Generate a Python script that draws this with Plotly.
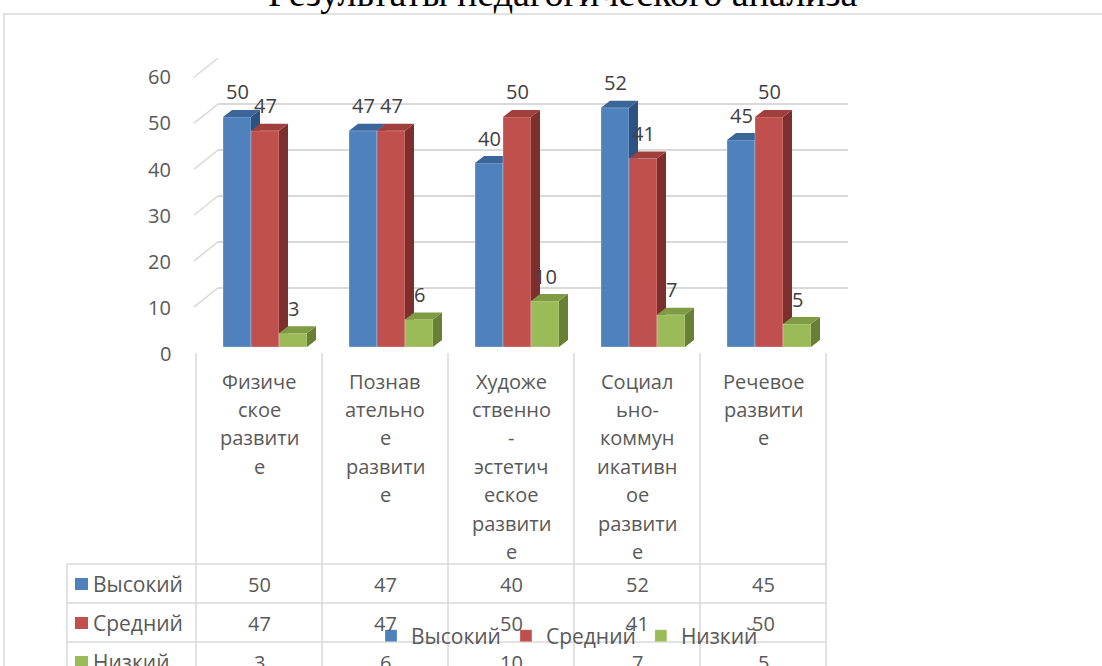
import plotly.graph_objects as go

# ---------------- data ----------------
categories = ["Физическое развитие", "Познавательное развитие",
              "Художественно-эстетическое развитие",
              "Социально-коммуникативное развитие", "Речевое развитие"]
cat_lines = [
    ["Физиче", "ское", "развити", "е"],
    ["Познав", "ательно", "е", "развити", "е"],
    ["Художе", "ственно", "-", "эстетич", "еское", "развити", "е"],
    ["Социал", "ьно-", "коммун", "икативн", "ое", "развити", "е"],
    ["Речевое", "развити", "е"],
]
series_names = ["Высокий", "Средний", "Низкий"]
high = [50, 47, 40, 52, 45]
mid = [47, 47, 50, 41, 50]
low = [3, 6, 10, 7, 5]
y_ticks = [0, 10, 20, 30, 40, 50, 60]
title_text = "Результаты педагогического анализа"

# ---------------- style ----------------
W, H = 1102, 666
FONT = "Open Sans"
front_colors = ["#4F81BD", "#C0504D", "#9BBB59"]
top_colors = ["#3B6699", "#A03F3C", "#7F9C45"]
side_colors = ["#2D5183", "#7C2F2D", "#687F36"]
grid_col = "#D9D9D9"
txt_col = "#595959"


def px(x):
    return x / W


def py(y):
    return 1 - y / H


series = [high, mid, low]
idx = list(range(len(categories)))
n_ser = len(series)
bw = (2 / 3) / n_ser              # bar width in category units
cat_px = 126.0                     # px per category (630 / 5)
val_px = 276.0 / 60.0              # px per value unit
dx = 9 / cat_px                    # bar depth (x) in data units
dy = 7 / val_px                    # bar depth (y) in data units

fig = go.Figure()

axis_names = ["2", "3", "4"]
for i, (vals, name) in enumerate(zip(series, series_names)):
    xa, ya = "x" + axis_names[i], "y" + axis_names[i]
    off = -1 / 3 + i * bw
    fig.add_trace(go.Bar(
        x=idx, y=vals, width=bw, offset=off, name=name,
        marker=dict(color=front_colors[i], line=dict(width=0.8, color="rgba(255,255,255,0.35)")),
        xaxis=xa, yaxis=ya, hoverinfo="y",
    ))
    # 3D side & top faces computed from the values
    sx, sy, tx, ty = [], [], [], []
    for c, v in zip(idx, vals):
        xl = c + off
        xr = xl + bw
        sx += [xr, xr + dx, xr + dx, xr, xr, None]
        sy += [0, dy, v + dy, v, 0, None]
        tx += [xl, xr, xr + dx, xl + dx, xl, None]
        ty += [v, v, v + dy, v + dy, v, None]
    fig.add_trace(go.Scatter(x=sx, y=sy, fill="toself", mode="none",
                             fillcolor=side_colors[i], showlegend=False,
                             hoverinfo="skip", xaxis=xa, yaxis=ya))
    fig.add_trace(go.Scatter(x=tx, y=ty, fill="toself", mode="none",
                             fillcolor=top_colors[i], showlegend=False,
                             hoverinfo="skip", xaxis=xa, yaxis=ya))

annotations = []
shapes = []

# data labels
for i, vals in enumerate(series):
    for c, v in zip(idx, vals):
        annotations.append(dict(
            x=c - 1 / 3 + (i + 0.5) * bw, y=v, xref="x2", yref="y2",
            xanchor="center", yanchor="middle",
            text=str(v), showarrow=False, yshift=25,
            font=dict(family=FONT, size=20, color="#404040")))

# y tick labels (front plane)
for t in y_ticks:
    annotations.append(dict(
        x=px(173), y=t, xref="paper", yref="y2", xanchor="right", yanchor="middle",
        text=str(t), showarrow=False, yshift=-6,
        font=dict(family=FONT, size=20, color=txt_col)))
    # perspective edge of gridline
    shapes.append(dict(
        type="line", xref="paper", xsizemode="pixel", xanchor=px(218),
        x0=-24, x1=0, yref="y", ysizemode="pixel", yanchor=t, y0=-19, y1=0,
        line=dict(color=grid_col, width=1.5)))

# category labels (in data table header)
col_left = 196
col_w = 126
for k, lines in enumerate(cat_lines):
    for j, line in enumerate(lines):
        annotations.append(dict(
            x=px(col_left + col_w * (k + 0.5)), y=py(381 + 28.4 * j),
            xref="paper", yref="paper", text=line, showarrow=False,
            xanchor="center", yanchor="middle",
            font=dict(family=FONT, size=20, color=txt_col)))

# data table
table_left = 67
row_tops = [564, 603, 642, 681]
for k in range(len(categories) + 1):
    xk = col_left + col_w * k
    shapes.append(dict(type="line", xref="paper", yref="paper",
                       x0=px(xk), x1=px(xk), y0=py(353), y1=py(700),
                       line=dict(color=grid_col, width=1.5)))
shapes.append(dict(type="line", xref="paper", yref="paper",
                   x0=px(table_left), x1=px(table_left), y0=py(564), y1=py(700),
                   line=dict(color=grid_col, width=1.5)))
for yt in row_tops:
    shapes.append(dict(type="line", xref="paper", yref="paper",
                       x0=px(table_left), x1=px(col_left + col_w * len(categories)),
                       y0=py(yt), y1=py(yt), line=dict(color=grid_col, width=1.5)))
for r, (vals, name) in enumerate(zip(series, series_names)):
    yc = 584 + 39 * r
    shapes.append(dict(type="rect", xref="paper", yref="paper",
                       x0=px(75), x1=px(88), y0=py(yc - 6), y1=py(yc + 6),
                       fillcolor=front_colors[r], line=dict(width=0)))
    annotations.append(dict(x=px(91), y=py(yc), xref="paper", yref="paper",
                            xanchor="left", yanchor="middle", text=name, showarrow=False,
                            font=dict(family=FONT, size=21, color=txt_col)))
    for k, v in enumerate(vals):
        annotations.append(dict(x=px(col_left + col_w * (k + 0.5)), y=py(yc),
                                xref="paper", yref="paper",
                                xanchor="center", yanchor="middle",
                                text=str(v), showarrow=False,
                                font=dict(family=FONT, size=20, color=txt_col)))

# outer chart border
shapes.append(dict(type="rect", xref="paper", yref="paper", layer="below",
                   x0=px(4), x1=px(1110), y0=py(14), y1=py(700),
                   line=dict(color=grid_col, width=1.5)))

# title (partly cut off at top, as in the reference)
annotations.append(dict(x=px(563), y=py(-7), xref="paper", yref="paper",
                        xanchor="center", yanchor="middle", text=title_text, showarrow=False,
                        font=dict(family="Liberation Serif", size=38, color="#000000")))

front_x_dom = [px(202), px(832)]
front_y_dom = [py(347), py(71)]
hidden = dict(visible=False, showgrid=False, zeroline=False, fixedrange=True)

layout = dict(
    width=W, height=H,
    margin=dict(l=0, r=0, t=0, b=0),
    paper_bgcolor="white", plot_bgcolor="rgba(0,0,0,0)",
    showlegend=True,
    legend=dict(orientation="h", x=px(371), y=py(636), xanchor="left", yanchor="middle",
                bgcolor="rgba(0,0,0,0)", font=dict(family=FONT, size=21, color=txt_col),
                itemclick=False, itemdoubleclick=False),
    xaxis=dict(domain=[px(218), px(848)], range=[-0.5, 4.5], anchor="y", **hidden),
    yaxis=dict(domain=[py(334), py(58)], range=[-0.05, 60.05], anchor="x",
               showgrid=True, gridcolor=grid_col, gridwidth=1.5, tickvals=y_ticks,
               showticklabels=False, zeroline=False, showline=False, ticks="",
               fixedrange=True),
    xaxis2=dict(domain=front_x_dom, range=[-0.5, 4.5], anchor="y2", **hidden),
    yaxis2=dict(domain=front_y_dom, range=[0, 60], anchor="x2", **hidden),
    xaxis3=dict(domain=front_x_dom, range=[-0.5, 4.5], anchor="y3", overlaying="x2", **hidden),
    yaxis3=dict(domain=front_y_dom, range=[0, 60], anchor="x3", overlaying="y2", **hidden),
    xaxis4=dict(domain=front_x_dom, range=[-0.5, 4.5], anchor="y4", overlaying="x2", **hidden),
    yaxis4=dict(domain=front_y_dom, range=[0, 60], anchor="x4", overlaying="y2", **hidden),
    annotations=annotations, shapes=shapes,
    font=dict(family=FONT),
)
fig.update_layout(**layout)
fig.write_html("out.html", config={"displayModeBar": False},
               post_script="document.body.style.margin='0';document.body.style.overflow='hidden';")
